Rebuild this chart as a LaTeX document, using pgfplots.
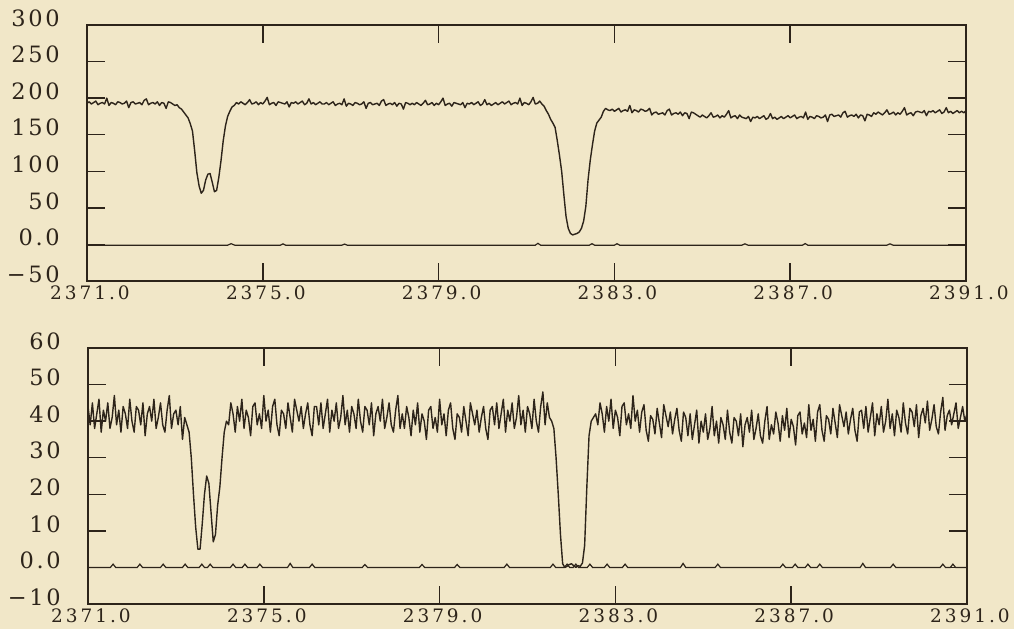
\documentclass[border=0pt]{standalone}
\usepackage{fontspec}
\usepackage{pgfplots}
\pgfplotsset{compat=1.18}
\newfontfamily\yfont[LetterSpace=12]{DejaVu Serif}
\newfontfamily\xfont[LetterSpace=16]{DejaVu Serif}
\definecolor{bg}{RGB}{241,231,200}
\definecolor{ink}{RGB}{45,36,26}
\begin{document}
\begin{tikzpicture}
\fill[bg] (0,0) rectangle (1014pt,-629pt);
\pgfplotsset{
  spec/.style={
    scale only axis, width=879pt, height=256pt,
    xmin=2371, xmax=2391,
    axis line style={line width=1.8pt, ink},
    tick style={line width=1.5pt, ink},
    major tick length=18pt, tick align=inside,
    xtick={2371,2375,2379,2383,2387,2391},
    xticklabels={2371.0,2375.0,2379.0,2383.0,2387.0,2391.0},
    xticklabel style={font=\xfont\fontsize{18.5}{20}\selectfont, text=ink, anchor=north, inner sep=0pt, yshift=-5pt, xshift=3pt},
    yticklabel style={font=\yfont\fontsize{22.5}{24}\selectfont, text=ink, anchor=east, inner sep=0pt, xshift=-27pt, yshift=7pt},
    clip=true,
  },
  dat/.style={ink, line width=1.4pt, line join=round, mark=none},
  zer/.style={ink, line width=1.2pt, mark=none},
}
\begin{axis}[spec, at={(87pt,-281pt)}, anchor=south west,
  ymin=-50, ymax=300,
  ytick={-50,0,50,100,150,200,250,300},
  yticklabels={−50,0.0,50,100,150,200,250,300}]
\addplot[zer] coordinates {(2371,-1) (2374.2,-1) (2374.28,1) (2374.36,-1) (2375.4,-1) (2375.46,0.8) (2375.52,-1) (2376.8,-1) (2376.86,0.5) (2376.92,-1) (2381.2,-1) (2381.26,1.5) (2381.32,-1) (2382.43,-1) (2382.49,1) (2382.55,-1) (2383.0,-1) (2383.06,1) (2383.12,-1) (2385.9,-1) (2385.97,0.8) (2386.04,-1) (2387.28,-1) (2387.34,1.2) (2387.4,-1) (2389.2,-1) (2389.27,0.8) (2389.34,-1) (2391,-1)};
\addplot[dat] coordinates {
(2371.00,193) (2371.05,195) (2371.10,192) (2371.15,194) (2371.20,196) (2371.25,191) (2371.30,193) (2371.35,194) (2371.40,192) (2371.45,200)
(2371.50,190) (2371.55,194) (2371.60,193) (2371.65,191) (2371.70,195) (2371.75,194) (2371.80,192) (2371.85,193) (2371.90,196) (2371.95,187)
(2372.00,194) (2372.05,195) (2372.10,192) (2372.15,193) (2372.20,194) (2372.25,191) (2372.30,197) (2372.35,199) (2372.40,191) (2372.45,193)
(2372.50,194) (2372.55,192) (2372.60,195) (2372.65,190) (2372.70,194) (2372.75,193) (2372.80,186) (2372.85,195) (2372.90,194) (2372.95,192)
(2373.00,190) (2373.05,191) (2373.10,187) (2373.15,185) (2373.20,181) (2373.25,177) (2373.30,173) (2373.35,165) (2373.40,155) (2373.45,128)
(2373.50,98) (2373.55,80) (2373.60,70) (2373.65,74) (2373.70,88) (2373.75,96) (2373.80,97) (2373.85,85) (2373.90,72) (2373.95,74)
(2374.00,92) (2374.05,115) (2374.10,142) (2374.15,162) (2374.20,175) (2374.25,182) (2374.30,188) (2374.35,190)
(2374.40,194) (2374.45,192) (2374.50,195) (2374.55,193) (2374.60,191) (2374.65,194) (2374.70,198) (2374.75,192) (2374.80,193) (2374.85,195)
(2374.90,191) (2374.95,194) (2375.00,192) (2375.05,196) (2375.10,201) (2375.15,191) (2375.20,193) (2375.25,194) (2375.30,190) (2375.35,195)
(2375.40,194) (2375.45,193) (2375.50,192) (2375.55,195) (2375.60,188) (2375.65,194) (2375.70,193) (2375.75,195) (2375.80,192) (2375.85,194)
(2375.90,196) (2375.95,191) (2376.00,193) (2376.05,199) (2376.10,192) (2376.15,194) (2376.20,191) (2376.25,193) (2376.30,195) (2376.35,192)
(2376.40,192) (2376.45,194) (2376.50,191) (2376.55,193) (2376.60,195) (2376.65,190) (2376.70,192) (2376.75,193) (2376.80,191) (2376.85,199)
(2376.90,189) (2376.95,193) (2377.00,192) (2377.05,190) (2377.10,194) (2377.15,193) (2377.20,191) (2377.25,192) (2377.30,195) (2377.35,186)
(2377.40,193) (2377.45,194) (2377.50,191) (2377.55,192) (2377.60,193) (2377.65,190) (2377.70,196) (2377.75,198) (2377.80,190) (2377.85,192)
(2377.90,193) (2377.95,191) (2378.00,194) (2378.05,189) (2378.10,193) (2378.15,192) (2378.20,185) (2378.25,194) (2378.30,193) (2378.35,191)
(2378.40,193) (2378.45,191) (2378.50,194) (2378.55,192) (2378.60,190) (2378.65,193) (2378.70,197) (2378.75,191) (2378.80,192) (2378.85,194)
(2378.90,190) (2378.95,193) (2379.00,191) (2379.05,195) (2379.10,200) (2379.15,190) (2379.20,192) (2379.25,193) (2379.30,189) (2379.35,194)
(2379.40,193) (2379.45,192) (2379.50,191) (2379.55,194) (2379.60,187) (2379.65,193) (2379.70,192) (2379.75,194) (2379.80,191) (2379.85,193)
(2379.90,195) (2379.95,190) (2380.00,192) (2380.05,198) (2380.10,191) (2380.15,193) (2380.20,190) (2380.25,192) (2380.30,194) (2380.35,191)
(2380.40,193) (2380.45,195) (2380.50,192) (2380.55,194) (2380.60,196) (2380.65,191) (2380.70,193) (2380.75,194) (2380.80,192) (2380.85,200)
(2380.90,190) (2380.95,194) (2381.00,193) (2381.05,191) (2381.10,195) (2381.15,201) (2381.20,192) (2381.25,193) (2381.30,196)
(2381.35,192) (2381.40,189) (2381.45,183) (2381.50,178) (2381.55,171) (2381.60,166) (2381.65,160) (2381.70,142) (2381.75,122) (2381.80,100)
(2381.85,68) (2381.90,38) (2381.95,22) (2382.00,15) (2382.05,13) (2382.10,14) (2382.15,15) (2382.20,17) (2382.25,22) (2382.30,32)
(2382.35,52) (2382.40,88) (2382.45,115) (2382.50,136) (2382.55,155) (2382.60,166) (2382.65,170) (2382.70,174) (2382.75,182) (2382.80,186) (2382.85,184)
(2382.90,183) (2382.95,185) (2383.00,182) (2383.05,184) (2383.10,186) (2383.15,181) (2383.20,183) (2383.25,184) (2383.30,182) (2383.35,190)
(2383.40,180) (2383.45,184) (2383.50,183) (2383.55,181) (2383.60,185) (2383.65,184) (2383.70,182) (2383.75,183) (2383.80,186) (2383.85,177)
(2383.90,180) (2383.95,181) (2384.00,178) (2384.05,179) (2384.10,180) (2384.15,177) (2384.20,183) (2384.25,185) (2384.30,177) (2384.35,179)
(2384.40,180) (2384.45,178) (2384.50,181) (2384.55,176) (2384.60,180) (2384.65,179) (2384.70,172) (2384.75,181) (2384.80,180) (2384.85,178)
(2384.90,176) (2384.95,174) (2385.00,177) (2385.05,175) (2385.10,173) (2385.15,176) (2385.20,180) (2385.25,174) (2385.30,175) (2385.35,177)
(2385.40,173) (2385.45,176) (2385.50,174) (2385.55,178) (2385.60,183) (2385.65,173) (2385.70,175) (2385.75,176) (2385.80,172) (2385.85,177)
(2385.90,174) (2385.95,173) (2386.00,172) (2386.05,175) (2386.10,168) (2386.15,174) (2386.20,173) (2386.25,175) (2386.30,172) (2386.35,174)
(2386.40,176) (2386.45,171) (2386.50,173) (2386.55,179) (2386.60,172) (2386.65,174) (2386.70,171) (2386.75,173) (2386.80,175) (2386.85,172)
(2386.90,174) (2386.95,176) (2387.00,173) (2387.05,175) (2387.10,177) (2387.15,172) (2387.20,174) (2387.25,175) (2387.30,173) (2387.35,181)
(2387.40,171) (2387.45,175) (2387.50,174) (2387.55,172) (2387.60,176) (2387.65,175) (2387.70,173) (2387.75,174) (2387.80,177) (2387.85,168)
(2387.90,177) (2387.95,178) (2388.00,175) (2388.05,176) (2388.10,177) (2388.15,174) (2388.20,180) (2388.25,182) (2388.30,174) (2388.35,176)
(2388.40,177) (2388.45,175) (2388.50,178) (2388.55,173) (2388.60,177) (2388.65,176) (2388.70,169) (2388.75,178) (2388.80,177) (2388.85,175)
(2388.90,180) (2388.95,178) (2389.00,181) (2389.05,179) (2389.10,177) (2389.15,180) (2389.20,184) (2389.25,178) (2389.30,179) (2389.35,181)
(2389.40,177) (2389.45,180) (2389.50,178) (2389.55,182) (2389.60,187) (2389.65,177) (2389.70,179) (2389.75,180) (2389.80,176) (2389.85,181)
(2389.90,182) (2389.95,181) (2390.00,180) (2390.05,183) (2390.10,176) (2390.15,182) (2390.20,181) (2390.25,183) (2390.30,180) (2390.35,182)
(2390.40,184) (2390.45,179) (2390.50,181) (2390.55,187) (2390.60,180) (2390.65,182) (2390.70,179) (2390.75,181) (2390.80,183) (2390.85,180)
(2390.90,182) (2390.95,180) (2391.00,183)
};
\end{axis}
\begin{axis}[spec, at={(88pt,-604pt)}, anchor=south west,
  ymin=-10, ymax=60,
  ytick={-10,0,10,20,30,40,50,60},
  yticklabels={−10,0.0,10,20,30,40,50,60}]
\addplot[zer] coordinates {(2371,0)
(2371.51,0) (2371.57,0.9) (2371.63,0) (2372.12,0) (2372.18,0.9) (2372.24,0) (2372.65,0) (2372.71,0.9) (2372.77,0)
(2373.15,0) (2373.21,0.9) (2373.27,0) (2373.53,0) (2373.59,0.9) (2373.65,0) (2373.72,0) (2373.78,0.9) (2373.84,0)
(2374.24,0) (2374.30,0.9) (2374.36,0) (2374.51,0) (2374.57,0.9) (2374.63,0) (2374.85,0) (2374.91,0.9) (2374.97,0)
(2375.54,0) (2375.60,1.1) (2375.66,0) (2376.04,0) (2376.10,0.9) (2376.16,0) (2377.24,0) (2377.30,0.8) (2377.36,0)
(2378.54,0) (2378.60,0.8) (2378.66,0) (2379.34,0) (2379.40,0.8) (2379.46,0) (2380.47,0) (2380.53,0.9) (2380.59,0)
(2381.52,0) (2381.58,0.9) (2381.64,0) (2381.84,0) (2381.90,0.9) (2381.96,0) (2382.04,0) (2382.10,0.9) (2382.16,0)
(2382.36,0) (2382.42,0.9) (2382.48,0) (2382.75,0) (2382.81,0.9) (2382.87,0) (2383.16,0) (2383.22,0.9) (2383.28,0)
(2384.48,0) (2384.54,1.1) (2384.60,0) (2385.27,0) (2385.33,0.9) (2385.39,0) (2386.75,0) (2386.81,0.9) (2386.87,0)
(2387.03,0) (2387.09,0.9) (2387.15,0) (2387.32,0) (2387.38,0.9) (2387.44,0) (2387.59,0) (2387.65,0.9) (2387.71,0)
(2388.57,0) (2388.63,1.1) (2388.69,0) (2389.26,0) (2389.32,0.9) (2389.38,0) (2390.39,0) (2390.45,0.9) (2390.51,0)
(2390.62,0) (2390.68,0.9) (2390.74,0) (2391,0)};
\addplot[dat] coordinates {
(2371.00,44) (2371.05,39) (2371.10,45) (2371.15,38) (2371.20,42) (2371.25,46) (2371.30,37) (2371.35,43) (2371.40,40) (2371.45,45)
(2371.50,38) (2371.55,41) (2371.60,47) (2371.65,39) (2371.70,43) (2371.75,37) (2371.80,44) (2371.85,42) (2371.90,38) (2371.95,46)
(2372.00,40) (2372.05,37) (2372.10,44) (2372.15,43) (2372.20,39) (2372.25,45) (2372.30,36) (2372.35,42) (2372.40,44) (2372.45,40)
(2372.50,46) (2372.55,38) (2372.60,41) (2372.65,45) (2372.70,39) (2372.75,37) (2372.80,43) (2372.85,47) (2372.90,38) (2372.95,42)
(2373.00,43) (2373.05,39) (2373.10,44) (2373.15,35) (2373.20,41)
(2373.25,39) (2373.30,37) (2373.35,30) (2373.40,20) (2373.45,11) (2373.50,5) (2373.55,5) (2373.60,12) (2373.65,20) (2373.70,25)
(2373.75,23) (2373.80,15) (2373.85,7) (2373.90,9) (2373.95,17) (2374.00,22) (2374.05,30) (2374.10,37) (2374.15,40)
(2374.20,39) (2374.25,45) (2374.30,42) (2374.35,37) (2374.40,44) (2374.45,40) (2374.50,46) (2374.55,38) (2374.60,43) (2374.65,41)
(2374.70,36) (2374.75,44) (2374.80,45) (2374.85,39) (2374.90,42) (2374.95,38) (2375.00,47) (2375.05,40) (2375.10,43) (2375.15,37)
(2375.20,44) (2375.25,46) (2375.30,39) (2375.35,36) (2375.40,43) (2375.45,42) (2375.50,38) (2375.55,45) (2375.60,41) (2375.65,37)
(2375.70,46) (2375.75,43) (2375.80,40) (2375.85,44) (2375.90,38) (2375.95,42) (2376.00,45) (2376.05,39) (2376.10,36) (2376.15,44)
(2376.20,44) (2376.25,39) (2376.30,45) (2376.35,38) (2376.40,42) (2376.45,46) (2376.50,37) (2376.55,43) (2376.60,40) (2376.65,45)
(2376.70,38) (2376.75,41) (2376.80,47) (2376.85,39) (2376.90,43) (2376.95,37) (2377.00,44) (2377.05,42) (2377.10,38) (2377.15,46)
(2377.20,40) (2377.25,37) (2377.30,44) (2377.35,43) (2377.40,39) (2377.45,45) (2377.50,36) (2377.55,42) (2377.60,44) (2377.65,40)
(2377.70,46) (2377.75,38) (2377.80,41) (2377.85,45) (2377.90,39) (2377.95,37) (2378.00,43) (2378.05,47) (2378.10,38) (2378.15,42)
(2378.20,38) (2378.25,44) (2378.30,41) (2378.35,36) (2378.40,43) (2378.45,39) (2378.50,45) (2378.55,37) (2378.60,42) (2378.65,40)
(2378.70,35) (2378.75,43) (2378.80,44) (2378.85,38) (2378.90,41) (2378.95,37) (2379.00,46) (2379.05,39) (2379.10,42) (2379.15,36)
(2379.20,43) (2379.25,45) (2379.30,38) (2379.35,35) (2379.40,42) (2379.45,41) (2379.50,37) (2379.55,44) (2379.60,40) (2379.65,36)
(2379.70,45) (2379.75,42) (2379.80,39) (2379.85,43) (2379.90,37) (2379.95,41) (2380.00,44) (2380.05,38) (2380.10,35) (2380.15,43)
(2380.20,44) (2380.25,39) (2380.30,45) (2380.35,38) (2380.40,42) (2380.45,46) (2380.50,37) (2380.55,43) (2380.60,40) (2380.65,45)
(2380.70,38) (2380.75,41) (2380.80,47) (2380.85,39) (2380.90,43) (2380.95,37) (2381.00,44) (2381.05,42) (2381.10,38) (2381.15,46)
(2381.20,40) (2381.25,37) (2381.30,44) (2381.35,48) (2381.40,39) (2381.45,45) (2381.50,41) (2381.55,40)
(2381.60,38) (2381.65,30) (2381.70,20) (2381.75,9) (2381.80,1) (2381.85,0) (2381.90,0.3) (2381.95,0.8) (2382.00,1) (2382.05,0.5)
(2382.10,0) (2382.15,0.5) (2382.20,0.3) (2382.25,1.2) (2382.30,6) (2382.35,22) (2382.40,36) (2382.45,40) (2382.50,41) (2382.55,42)
(2382.60,39) (2382.65,45) (2382.70,42) (2382.75,37) (2382.80,44) (2382.85,40) (2382.90,46) (2382.95,38) (2383.00,43) (2383.05,41)
(2383.10,36) (2383.15,44) (2383.20,45) (2383.25,39) (2383.30,42) (2383.35,38) (2383.40,47) (2383.45,40) (2383.50,43) (2383.55,37)
(2383.60,42.5) (2383.65,44.5) (2383.70,37.5) (2383.75,34.5) (2383.80,41.5) (2383.85,40.5) (2383.90,36.5) (2383.95,43.5) (2384.00,39.5) (2384.05,35.5)
(2384.10,44.5) (2384.15,41.5) (2384.20,38.5) (2384.25,42.5) (2384.30,36.5) (2384.35,40.5) (2384.40,43.5) (2384.45,37.5) (2384.50,34.5) (2384.55,42.5)
(2384.60,41) (2384.65,36) (2384.70,42) (2384.75,35) (2384.80,39) (2384.85,43) (2384.90,34) (2384.95,40) (2385.00,37) (2385.05,42)
(2385.10,35) (2385.15,38) (2385.20,44) (2385.25,36) (2385.30,40) (2385.35,34) (2385.40,41) (2385.45,39) (2385.50,35) (2385.55,43)
(2385.60,37) (2385.65,34) (2385.70,41) (2385.75,40) (2385.80,36) (2385.85,42) (2385.90,33) (2385.95,39) (2386.00,41) (2386.05,37)
(2386.10,43) (2386.15,35) (2386.20,38) (2386.25,42) (2386.30,36) (2386.35,34) (2386.40,40) (2386.45,44) (2386.50,35) (2386.55,39)
(2386.60,36.5) (2386.65,42.5) (2386.70,39.5) (2386.75,34.5) (2386.80,41.5) (2386.85,37.5) (2386.90,43.5) (2386.95,35.5) (2387.00,40.5) (2387.05,38.5)
(2387.10,33.5) (2387.15,41.5) (2387.20,42.5) (2387.25,36.5) (2387.30,39.5) (2387.35,35.5) (2387.40,44.5) (2387.45,37.5) (2387.50,40.5) (2387.55,34.5)
(2387.60,42.5) (2387.65,44.5) (2387.70,37.5) (2387.75,34.5) (2387.80,41.5) (2387.85,40.5) (2387.90,36.5) (2387.95,43.5) (2388.00,39.5) (2388.05,35.5)
(2388.10,44.5) (2388.15,41.5) (2388.20,38.5) (2388.25,42.5) (2388.30,36.5) (2388.35,40.5) (2388.40,43.5) (2388.45,37.5) (2388.50,34.5) (2388.55,42.5)
(2388.60,43) (2388.65,38) (2388.70,44) (2388.75,37) (2388.80,41) (2388.85,45) (2388.90,36) (2388.95,42) (2389.00,39) (2389.05,44)
(2389.10,37) (2389.15,40) (2389.20,46) (2389.25,38) (2389.30,42) (2389.35,36) (2389.40,43) (2389.45,41) (2389.50,37) (2389.55,45)
(2389.60,39.5) (2389.65,36.5) (2389.70,43.5) (2389.75,42.5) (2389.80,38.5) (2389.85,44.5) (2389.90,35.5) (2389.95,41.5) (2390.00,43.5) (2390.05,39.5)
(2390.10,45.5) (2390.15,37.5) (2390.20,40.5) (2390.25,44.5) (2390.30,38.5) (2390.35,36.5) (2390.40,42.5) (2390.45,46.5) (2390.50,37.5) (2390.55,41.5)
(2390.60,43) (2390.65,39) (2390.70,42) (2390.75,45) (2390.80,38) (2390.85,41) (2390.90,44) (2390.95,40) (2391.00,42)
};
\end{axis}
\pgfresetboundingbox
\useasboundingbox (0,0) rectangle (1014pt,-629pt);
\end{tikzpicture}
\end{document}
